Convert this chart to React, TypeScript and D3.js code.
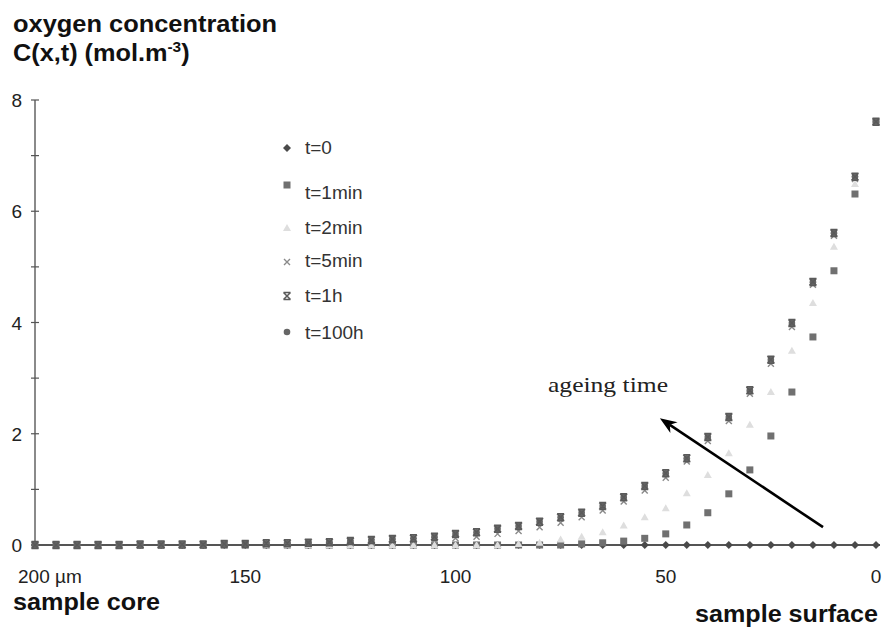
import React, { useEffect, useRef } from 'react';
import * as d3 from 'd3';

// depth from the surface (µm)
const depths = [200, 195, 190, 185, 180, 175, 170, 165, 160, 155, 150, 145, 140, 135, 130, 125, 120, 115, 110, 105,
  100, 95, 90, 85, 80, 75, 70, 65, 60, 55, 50, 45, 40, 35, 30, 25, 20, 15, 10, 5, 0];

const c_t0 = [0, 0, 0, 0, 0, 0, 0, 0, 0, 0, 0, 0, 0, 0, 0, 0, 0, 0, 0, 0,
  0, 0, 0, 0, 0, 0, 0, 0, 0, 0, 0, 0, 0, 0, 0, 0, 0, 0, 0, 0, 0];
const c_1min = [0, 0, 0, 0, 0, 0, 0, 0, 0, 0, 0, 0, 0, 0, 0, 0, 0, 0, 0, 0,
  0, 0, 0, 0, 0, 0, 0.02, 0.04, 0.07, 0.12, 0.2, 0.36, 0.58, 0.92, 1.35, 1.96, 2.75, 3.74, 4.93, 6.31, 7.6];
const c_2min = [0, 0, 0, 0, 0, 0, 0, 0, 0, 0, 0, 0, 0, 0, 0, 0, 0, 0, 0, 0,
  0, 0, 0, 0.02, 0.04, 0.1, 0.15, 0.23, 0.35, 0.5, 0.66, 0.93, 1.26, 1.65, 2.16, 2.75, 3.49, 4.35, 5.36, 6.49, 7.6];
const c_5min = [0, 0, 0, 0, 0, 0, 0, 0, 0.01, 0.01, 0.01, 0.01, 0.02, 0.02, 0.03, 0.04, 0.05, 0.06, 0.07, 0.09,
  0.12, 0.15, 0.2, 0.25, 0.32, 0.4, 0.5, 0.62, 0.78, 0.98, 1.21, 1.5, 1.87, 2.23, 2.72, 3.26, 3.92, 4.68, 5.56, 6.58, 7.6];
const c_1h = [0, 0, 0, 0, 0, 0.01, 0.01, 0.01, 0.01, 0.02, 0.02, 0.03, 0.03, 0.04, 0.05, 0.07, 0.09, 0.11, 0.12, 0.15,
  0.2, 0.23, 0.29, 0.34, 0.42, 0.5, 0.58, 0.7, 0.86, 1.06, 1.29, 1.56, 1.94, 2.3, 2.78, 3.33, 3.99, 4.73, 5.61, 6.62, 7.61];
const c_100h = [0, 0, 0, 0, 0, 0.01, 0.01, 0.01, 0.01, 0.02, 0.02, 0.03, 0.03, 0.04, 0.05, 0.07, 0.09, 0.11, 0.12, 0.15,
  0.2, 0.23, 0.29, 0.34, 0.42, 0.5, 0.58, 0.7, 0.86, 1.06, 1.29, 1.56, 1.94, 2.3, 2.78, 3.33, 3.99, 4.73, 5.61, 6.62, 7.61];

const seriesNames = ['t=0', 't=1min', 't=2min', 't=5min', 't=1h', 't=100h'];
const yTicks = [0, 2, 4, 6, 8];
const xTicks = [200, 150, 100, 50, 0];
const xTickLabels = ['200 µm', '150', '100', '50', '0'];

const W = 883, H = 629;

// draw one marker of a given kind into a selection
function drawMarker(g, kind) {
  if (kind === 'diamond') {
    g.append('path').attr('d', 'M0,-4L4,0L0,4L-4,0Z').attr('fill', '#4a4a4a');
  } else if (kind === 'square') {
    g.append('rect').attr('x', -3.5).attr('y', -3.5).attr('width', 7).attr('height', 7).attr('fill', '#707070');
  } else if (kind === 'triangle') {
    g.append('path').attr('d', 'M0,-4L4,3L-4,3Z').attr('fill', '#dedede');
  } else if (kind === 'x') {
    g.append('path').attr('d', 'M-3,-3L3,3M3,-3L-3,3')
      .attr('stroke', '#8a8a8a').attr('stroke-width', 1.4).attr('fill', 'none');
  } else if (kind === 'star') {
    g.append('path').attr('d', 'M-3.5,-3.5L3.5,3.5M3.5,-3.5L-3.5,3.5M-3.5,-3.5L3.5,-3.5M-3.5,3.5L3.5,3.5')
      .attr('stroke', '#5a5a5a').attr('stroke-width', 1.5).attr('fill', 'none');
  } else if (kind === 'circle') {
    g.append('circle').attr('r', 3.3).attr('fill', '#666');
  }
}

const App = () => {
  const svgRef = useRef(null);

  useEffect(() => {
    const svg = d3.select(svgRef.current);
    svg.selectAll('*').remove();

    const x = d3.scaleLinear().domain([200, 0]).range([35, 876]);
    const y = d3.scaleLinear().domain([0, 8]).range([545, 100]);

    const sans = "'Liberation Sans', Arial, sans-serif";

    // Title
    svg.append('text').attr('x', 13).attr('y', 32)
      .attr('font-family', sans).attr('font-weight', 'bold').attr('font-size', 23)
      .attr('textLength', 264).attr('lengthAdjust', 'spacingAndGlyphs')
      .attr('fill', '#111').text('oxygen concentration');
    const t2 = svg.append('text').attr('transform', 'translate(13,61) scale(1.1,1)')
      .attr('font-family', sans).attr('font-weight', 'bold').attr('font-size', 23).attr('fill', '#111');
    t2.append('tspan').text('C(x,t) (mol.m');
    t2.append('tspan').attr('dy', -9).attr('font-size', 14).text('-3');
    t2.append('tspan').attr('dy', 9).text(')');

    // Y axis
    svg.append('line').attr('x1', x(200)).attr('x2', x(200)).attr('y1', y(8)).attr('y2', y(0))
      .attr('stroke', '#8a8a8a').attr('stroke-width', 2);
    d3.range(0, 9).forEach(v => {
      svg.append('line').attr('x1', x(200) - 4).attr('x2', x(200) + 4).attr('y1', y(v)).attr('y2', y(v))
        .attr('stroke', '#555').attr('stroke-width', 1.2);
    });
    yTicks.forEach(v => {
      svg.append('text').attr('x', 22).attr('y', y(v) + 7).attr('text-anchor', 'end')
        .attr('font-family', sans).attr('font-size', 19).attr('fill', '#222').text(v);
    });

    // X axis
    svg.append('line').attr('x1', x(200)).attr('x2', x(0) + 4).attr('y1', y(0)).attr('y2', y(0))
      .attr('stroke', '#555').attr('stroke-width', 2);
    xTicks.forEach((v, i) => {
      svg.append('text').attr('x', i === 0 ? 18 : x(v)).attr('y', 583)
        .attr('text-anchor', i === 0 ? 'start' : 'middle')
        .attr('font-family', sans).attr('font-size', 19).attr('fill', '#222').text(xTickLabels[i]);
    });

    svg.append('text').attr('x', 13).attr('y', 610)
      .attr('font-family', sans).attr('font-weight', 'bold').attr('font-size', 23)
      .attr('textLength', 147).attr('lengthAdjust', 'spacingAndGlyphs')
      .attr('fill', '#111').text('sample core');
    svg.append('text').attr('x', 878).attr('y', 622).attr('text-anchor', 'end')
      .attr('font-family', sans).attr('font-weight', 'bold').attr('font-size', 23)
      .attr('textLength', 183).attr('lengthAdjust', 'spacingAndGlyphs')
      .attr('fill', '#111').text('sample surface');

    // Series
    const series = [
      { name: seriesNames[0], values: c_t0, kind: 'diamond' },
      { name: seriesNames[1], values: c_1min, kind: 'square' },
      { name: seriesNames[2], values: c_2min, kind: 'triangle' },
      { name: seriesNames[3], values: c_5min, kind: 'x' },
      { name: seriesNames[5], values: c_100h, kind: 'circle' },
      { name: seriesNames[4], values: c_1h, kind: 'star' },
    ];
    series.forEach(s => {
      const g = svg.append('g');
      s.values.forEach((v, i) => {
        const m = g.append('g').attr('transform', `translate(${x(depths[i])},${y(v)})`);
        drawMarker(m, s.kind);
      });
    });

    // Legend
    const legend = [
      { name: 't=0', kind: 'diamond', my: 148, ty: 154 },
      { name: 't=1min', kind: 'square', my: 185, ty: 199 },
      { name: 't=2min', kind: 'triangle', my: 228, ty: 234 },
      { name: 't=5min', kind: 'x', my: 262, ty: 267 },
      { name: 't=1h', kind: 'star', my: 296, ty: 302 },
      { name: 't=100h', kind: 'circle', my: 332, ty: 339 },
    ];
    legend.forEach(l => {
      const m = svg.append('g').attr('transform', `translate(287,${l.my})`);
      drawMarker(m, l.kind);
      svg.append('text').attr('x', 305).attr('y', l.ty)
        .attr('font-family', sans).attr('font-size', 19).attr('fill', '#333').text(l.name);
    });

    // Annotation arrow
    const x0 = x(12.6), y0 = y(0.32), x1 = x(51.4), y1 = y(2.28);
    const ang = Math.atan2(y1 - y0, x1 - x0);
    const len = 17, hw = 6.5;
    const bx = x1 - len * Math.cos(ang), by = y1 - len * Math.sin(ang);
    const nx = -Math.sin(ang), ny = Math.cos(ang);
    const nbx = x1 - (len - 5) * Math.cos(ang), nby = y1 - (len - 5) * Math.sin(ang);
    svg.append('line').attr('x1', x0).attr('y1', y0).attr('x2', nbx).attr('y2', nby)
      .attr('stroke', '#000').attr('stroke-width', 2.6);
    svg.append('path')
      .attr('d', `M${x1},${y1}L${bx + nx * hw},${by + ny * hw}L${nbx},${nby}L${bx - nx * hw},${by - ny * hw}Z`)
      .attr('fill', '#000');
    svg.append('text').attr('x', 548).attr('y', 392)
      .attr('font-family', "'Liberation Serif', 'Times New Roman', serif").attr('font-size', 22)
      .attr('textLength', 120).attr('lengthAdjust', 'spacingAndGlyphs')
      .attr('fill', '#222').text('ageing time');
  }, []);

  return (
    <svg ref={svgRef} width={W} height={H}
      style={{ position: 'absolute', left: 0, top: 0, background: '#fff' }} />
  );
};

export default App;
